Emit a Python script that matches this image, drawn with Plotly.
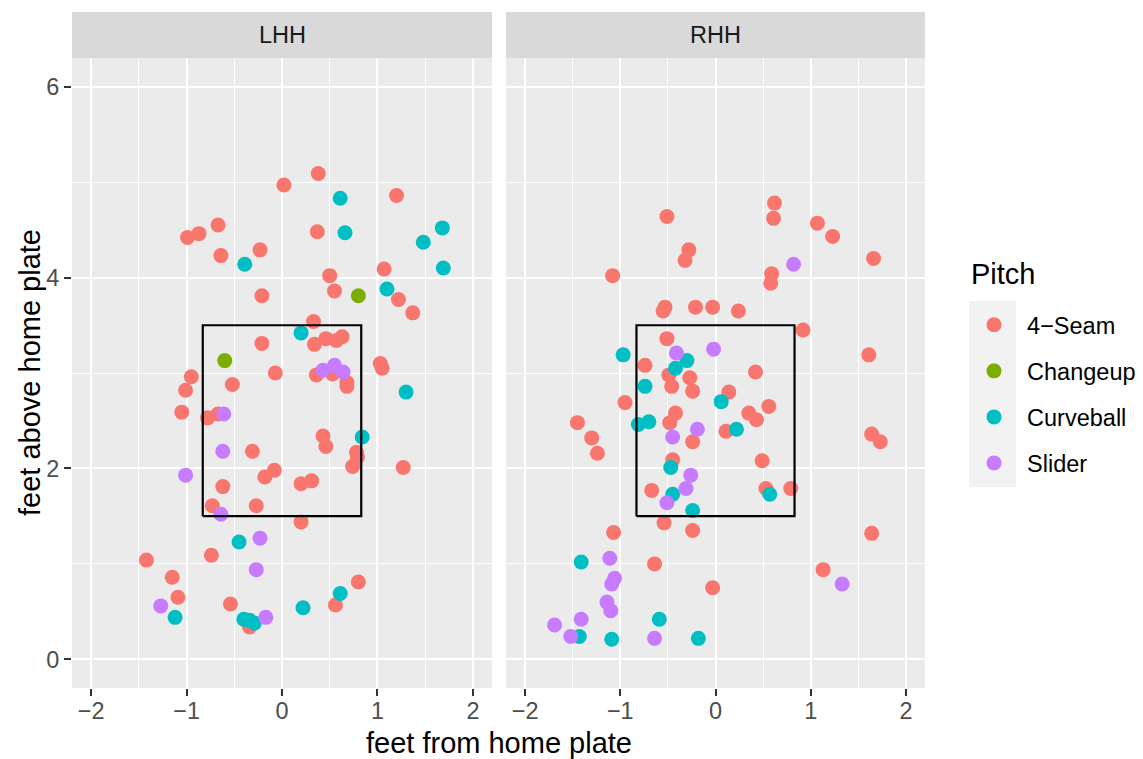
import plotly.graph_objects as go

# ---------------- data ----------------
pitch_types = ["4\u2212Seam", "Changeup", "Curveball", "Slider"]
pitch_colors = ["#F8766D", "#7CAE00", "#00BFC4", "#C77CFF"]
facets = ["LHH", "RHH"]

# LHH panel
lhh_fourseam_x = [0.02, 0.38, 1.20, -0.99, -0.87, -0.67, -0.64, -0.23, 0.37, 1.07, 0.50, 0.55, 1.22, 1.37,
                  -0.21, 0.33, 0.46, 0.57, 0.63, 0.34, -0.21, 0.36, 0.53, 0.68, 0.68, 1.03, 1.05, -0.07,
                  -0.52, -0.95, -1.01, -1.05, -0.78, -0.67, -0.31, 0.43, 0.46, 0.78, 0.79, 0.74, -0.18,
                  -0.08, 0.20, 0.31, 1.27, -0.62, -0.73, -0.27, 0.20, -0.74, -1.42, -1.15, -1.09, -0.54,
                  -0.34, 0.56, 0.80]
lhh_fourseam_y = [4.97, 5.09, 4.86, 4.42, 4.46, 4.55, 4.23, 4.29, 4.48, 4.09, 4.02, 3.86, 3.77, 3.63,
                  3.81, 3.54, 3.36, 3.34, 3.38, 3.30, 3.31, 2.98, 2.99, 2.90, 2.86, 3.10, 3.05, 3.00,
                  2.88, 2.96, 2.82, 2.59, 2.53, 2.57, 2.18, 2.34, 2.23, 2.17, 2.12, 2.02, 1.91,
                  1.98, 1.84, 1.87, 2.01, 1.81, 1.61, 1.61, 1.44, 1.09, 1.04, 0.86, 0.65, 0.58,
                  0.34, 0.57, 0.81]
lhh_changeup_x = [-0.60, 0.80]
lhh_changeup_y = [3.13, 3.81]
lhh_curveball_x = [-0.39, 0.61, 0.66, 1.68, 1.48, 1.69, 1.10, 0.20, 1.30, 0.84, -0.45, 0.61, 0.22, -1.12,
                   -0.40, -0.34, -0.29]
lhh_curveball_y = [4.14, 4.83, 4.47, 4.52, 4.37, 4.10, 3.88, 3.42, 2.80, 2.33, 1.23, 0.69, 0.54, 0.44,
                   0.42, 0.41, 0.38]
lhh_slider_x = [0.43, 0.55, 0.64, -0.61, -0.62, -1.01, -0.64, -0.23, -0.27, -1.27, -0.17]
lhh_slider_y = [3.03, 3.08, 3.01, 2.57, 2.18, 1.93, 1.52, 1.27, 0.94, 0.56, 0.44]

# RHH panel
rhh_fourseam_x = [-0.51, -0.28, -0.32, -1.08, -0.53, -0.55, -0.21, -0.03, -0.51, -0.74, -0.49, -0.27,
                  0.62, 0.61, 1.07, 1.23, 1.66, 0.59, 0.58, 0.24, 0.92, 1.61, 0.42, -0.24, -0.46, -0.95,
                  -1.45, -1.30, -1.24, -0.42, -0.48, -0.24, -0.45, -0.67, -0.54, -0.24, -1.07, -0.64,
                  -0.03, 0.14, 0.35, 0.56, 0.43, 0.11, 1.64, 1.73, 0.49, 0.53, 0.79, 1.64, 1.13]
rhh_fourseam_y = [4.64, 4.29, 4.18, 4.02, 3.69, 3.65, 3.69, 3.69, 3.36, 3.08, 2.98, 2.95,
                  4.78, 4.62, 4.57, 4.43, 4.20, 4.04, 3.94, 3.65, 3.45, 3.19, 3.01, 2.81, 2.86, 2.69,
                  2.48, 2.32, 2.16, 2.58, 2.48, 2.28, 2.09, 1.77, 1.43, 1.35, 1.33, 1.00,
                  0.75, 2.80, 2.58, 2.65, 2.51, 2.39, 2.36, 2.28, 2.08, 1.79, 1.79, 1.32, 0.94]
rhh_curveball_x = [-0.97, -0.30, -0.42, -0.74, -0.81, -0.70, -0.47, -0.45, -0.24, -1.41, -0.59, -1.43,
                   -1.09, -0.18, 0.06, 0.22, 0.57]
rhh_curveball_y = [3.19, 3.13, 3.05, 2.86, 2.46, 2.49, 2.01, 1.73, 1.56, 1.02, 0.42, 0.24,
                   0.21, 0.22, 2.70, 2.41, 1.73]
rhh_slider_x = [-0.41, -0.02, 0.82, -0.45, -0.19, -0.26, -0.31, -0.51, -1.11, -1.06, -1.09, -1.14,
                -1.10, -1.41, -1.69, -1.52, -0.64, 1.33]
rhh_slider_y = [3.21, 3.25, 4.14, 2.33, 2.41, 1.93, 1.79, 1.64, 1.06, 0.85, 0.79, 0.60,
                0.51, 0.42, 0.36, 0.24, 0.22, 0.79]

# strike zone
zone_x = [-0.83, 0.83]
zone_y = [1.5, 3.5]

x_title = "feet from home plate"
y_title = "feet above home plate"
legend_title = "Pitch"

# ---------------- figure ----------------
W, H = 1143, 759
ML, MR, MT, MB = 72, 218, 58, 71
PW = W - ML - MR
PH = H - MT - MB


def px_x(p):
    return (p - ML) / PW


def px_y(p):
    return (H - MB - p) / PH


FONT = "Liberation Sans, Arial, Helvetica, sans-serif"
TICK_SIZE = 23.5
TITLE_SIZE = 29
LABEL_PAD = "\u00a0\u00a0"

panel_data = {
    "LHH": [(lhh_fourseam_x, lhh_fourseam_y), (lhh_changeup_x, lhh_changeup_y),
            (lhh_curveball_x, lhh_curveball_y), (lhh_slider_x, lhh_slider_y)],
    "RHH": [(rhh_fourseam_x, rhh_fourseam_y), ([], []),
            (rhh_curveball_x, rhh_curveball_y), (rhh_slider_x, rhh_slider_y)],
}
axes_ref = {"LHH": ("x", "y"), "RHH": ("x2", "y2")}

fig = go.Figure()
for k, (name, col) in enumerate(zip(pitch_types, pitch_colors)):
    for f_i, facet in enumerate(facets):
        xs, ys = panel_data[facet][k]
        xa, ya = axes_ref[facet]
        fig.add_trace(go.Scatter(
            x=xs, y=ys, mode="markers", name=LABEL_PAD + name,
            legendgroup=name, showlegend=(f_i == 0),
            marker=dict(color=col, size=15, line=dict(width=0)),
            xaxis=xa, yaxis=ya,
        ))

for facet in facets:
    xa, ya = axes_ref[facet]
    fig.add_trace(go.Scatter(
        x=[zone_x[0], zone_x[1], zone_x[1], zone_x[0], zone_x[0]],
        y=[zone_y[0], zone_y[0], zone_y[1], zone_y[1], zone_y[0]],
        mode="lines", line=dict(color="black", width=2.2),
        showlegend=False, hoverinfo="skip", xaxis=xa, yaxis=ya,
    ))

dom_l = [0, (492 - ML) / PW]
dom_r = [(506 - ML) / PW, 1]

xax = dict(range=[-2.2, 2.2], dtick=1, tick0=0, showline=False, zeroline=False,
           showgrid=True, gridcolor="white", gridwidth=2.2,
           minor=dict(dtick=0.5, tick0=0, showgrid=True, gridcolor="white", gridwidth=1.1),
           ticks="outside", ticklen=7, tickwidth=2.2, tickcolor="#333333", ticklabelstandoff=-5,
           tickfont=dict(family=FONT, size=TICK_SIZE, color="#4D4D4D"))
yax = dict(range=[-0.3, 6.3], dtick=2, tick0=0, showline=False, zeroline=False,
           showgrid=True, gridcolor="white", gridwidth=2.2,
           minor=dict(dtick=1, tick0=0, showgrid=True, gridcolor="white", gridwidth=1.1),
           ticks="outside", ticklen=7, tickwidth=2.2, tickcolor="#333333",
           tickfont=dict(family=FONT, size=TICK_SIZE, color="#4D4D4D"))

fig.update_layout(
    width=W, height=H,
    margin=dict(l=ML, r=MR, t=MT, b=MB, pad=0, autoexpand=False),
    paper_bgcolor="white", plot_bgcolor="#EBEBEB",
    font=dict(family=FONT, color="black"),
    xaxis=dict(xax, domain=dom_l, anchor="y"),
    xaxis2=dict(xax, domain=dom_r, anchor="y2"),
    yaxis=dict(yax, domain=[0, 1], anchor="x"),
    yaxis2=dict(yax, domain=[0, 1], anchor="x2", showticklabels=False, ticks=""),
    showlegend=True,
    legend=dict(x=px_x(974), y=px_y(303), xanchor="left", yanchor="top",
                bgcolor="rgba(0,0,0,0)", borderwidth=0,
                font=dict(family=FONT, size=TICK_SIZE, color="black"),
                tracegroupgap=12.5, itemwidth=30, traceorder="grouped"),
)

shapes = []
annotations = []
strip_top = px_y(12)
for facet, dom in zip(facets, [dom_l, dom_r]):
    shapes.append(dict(type="rect", xref="paper", yref="paper", x0=dom[0], x1=dom[1],
                       y0=1.0, y1=strip_top, fillcolor="#D9D9D9", line=dict(width=0), layer="below"))
    annotations.append(dict(text=facet, xref="paper", yref="paper", x=(dom[0] + dom[1]) / 2,
                            y=px_y(35), xanchor="center", yanchor="middle", showarrow=False,
                            font=dict(family=FONT, size=TICK_SIZE, color="#1A1A1A")))

# legend key background
shapes.append(dict(type="rect", xref="paper", yref="paper", x0=px_x(969), x1=px_x(1016),
                   y0=px_y(487), y1=px_y(301), fillcolor="#F2F2F2", line=dict(width=0), layer="below"))

annotations.append(dict(text=x_title, xref="paper", yref="paper", x=0.5, y=px_y(743),
                        xanchor="center", yanchor="middle", showarrow=False,
                        font=dict(family=FONT, size=TITLE_SIZE, color="black")))
annotations.append(dict(text=y_title, xref="paper", yref="paper", x=px_x(30), y=0.5,
                        xanchor="center", yanchor="middle", showarrow=False, textangle=-90,
                        font=dict(family=FONT, size=TITLE_SIZE, color="black")))
annotations.append(dict(text=legend_title, xref="paper", yref="paper", x=px_x(969), y=px_y(274),
                        xanchor="left", yanchor="middle", showarrow=False,
                        font=dict(family=FONT, size=TITLE_SIZE, color="black")))

fig.update_layout(shapes=shapes, annotations=annotations)
fig.write_html("out.html", config={"displayModeBar": False},
               post_script="document.body.style.margin='0px';document.body.style.overflow='hidden';")
